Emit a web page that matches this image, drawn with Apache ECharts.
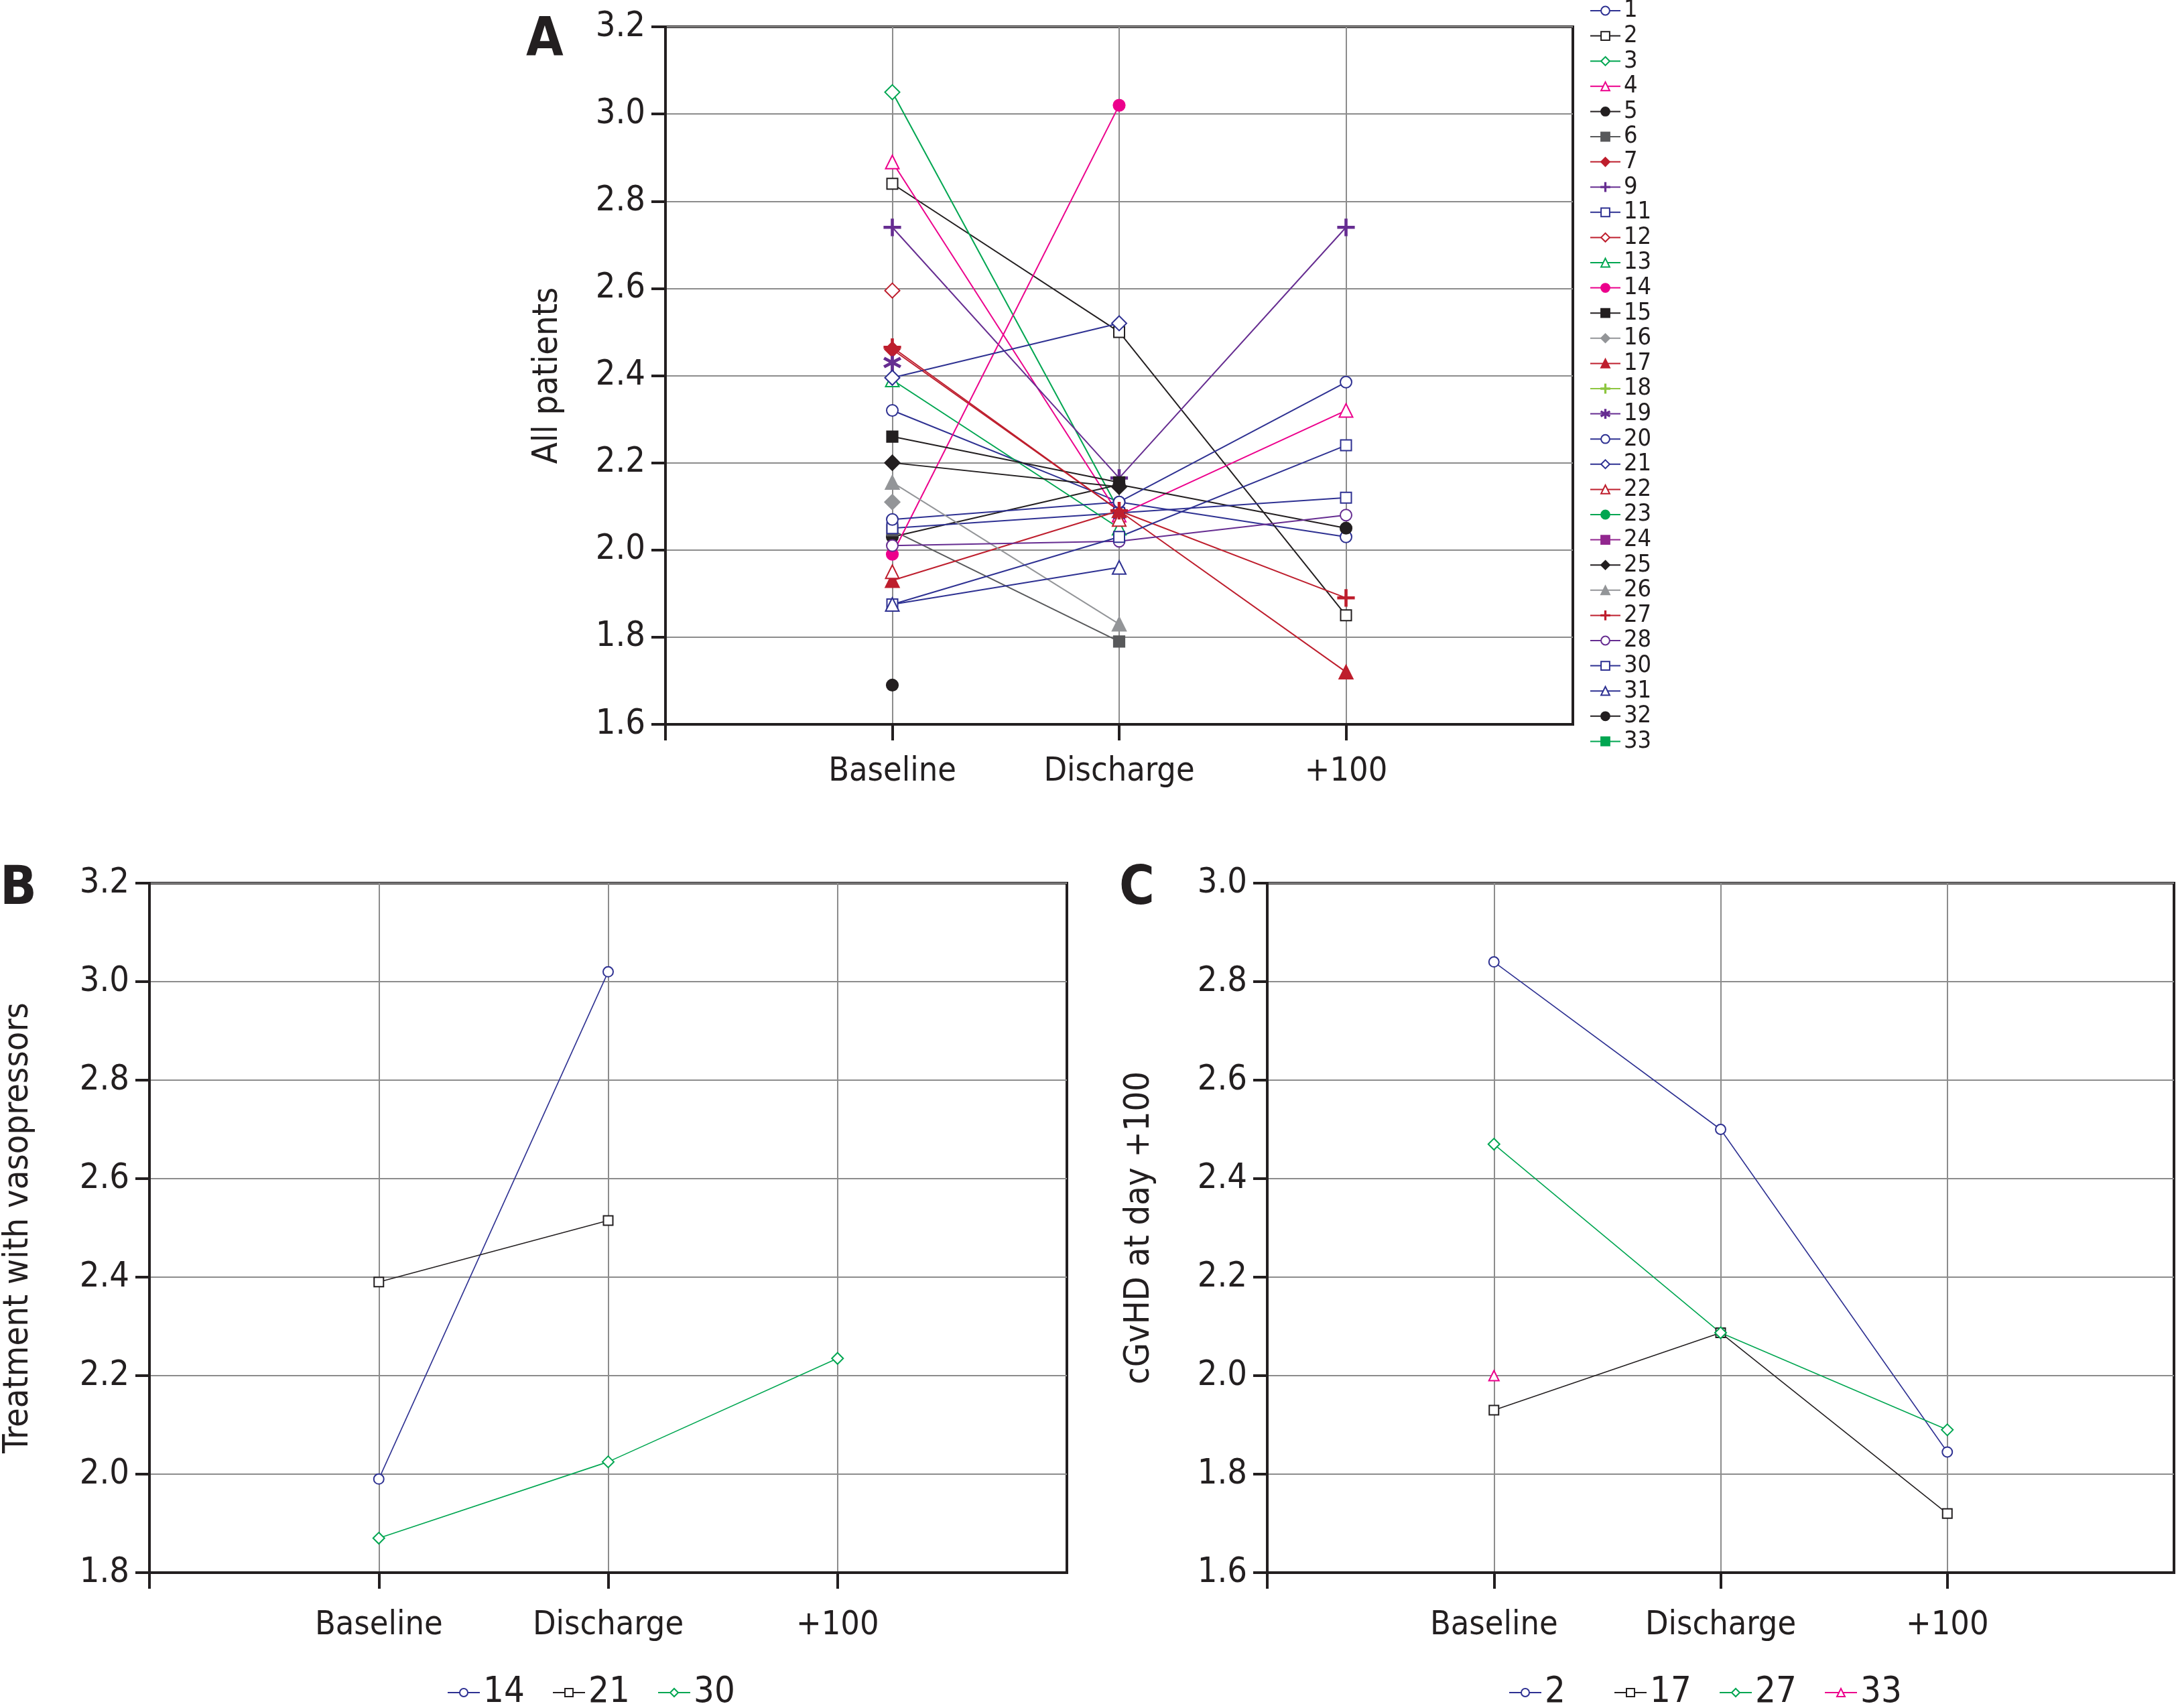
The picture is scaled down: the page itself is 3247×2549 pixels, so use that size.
<!DOCTYPE html>
<html>
<head>
<meta charset="utf-8">
<script src="https://cdn.jsdelivr.net/npm/echarts@6/dist/echarts.min.js"></script>
<style>
html, body { margin: 0; padding: 0; background: #fff; }
#chart { width: 3247px; height: 2549px; }
</style>
</head>
<body>
<div id="chart"></div>
<script>
// time points on the x axis (empty slots pad both ends)
const timepoints = ['Baseline', 'Discharge', '+100'];

// panel A: all patients
const patientsA  = ['1','2','3','4','5','6','7','9','11','12','13','14','15','16','17','18','19','20','21','22','23','24','25','26','27','28','30','31','32','33'];
const baselineA  = [2.32, 2.84, 3.05, 2.89, 2.03, 2.045, 2.46, 2.74, 2.05, 2.595, 2.39, 1.99, 2.26, 2.11, 1.93, null, 2.43, 2.07, 2.395, 1.95, null, null, 2.20, 2.155, 2.465, 2.01, 1.875, 1.875, 1.69, null];
const dischargeA = [2.11, 2.50, 2.09, 2.08, 2.15, 1.79, 2.09, 2.165, 2.085, null, 2.05, 3.02, 2.155, null, 2.09, null, null, 2.11, 2.52, 2.07, null, null, 2.145, 1.83, 2.09, 2.02, 2.03, 1.96, null, null];
const day100A    = [2.03, 1.85, null, 2.32, 2.05, null, null, 2.74, 2.12, null, null, null, null, null, 1.72, null, null, 2.385, null, null, null, null, null, null, 1.89, 2.08, 2.24, null, null, null];
// points drawn without a connecting line in the original
const unlinkedA  = ['22'];

// panel B: treatment with vasopressors
const patientsB  = ['14', '21', '30'];
const baselineB  = [1.99, 2.39, 1.87];
const dischargeB = [3.02, 2.515, 2.025];
const day100B    = [null, null, 2.235];

// panel C: cGvHD at day +100
const patientsC  = ['2', '17', '27', '33'];
const baselineC  = [2.84, 1.93, 2.47, 2.0];
const dischargeC = [2.50, 2.087, 2.087, null];
const day100C    = [1.845, 1.72, 1.89, null];

const BLUE = '#2e3192', BLACK = '#231f20', GREEN = '#00a651', PINK = '#ec008c',
  DGRAY = '#58595b', RED = '#be1e2d', PURPLE = '#662d91', GRAY = '#939598',
  LGREEN = '#8dc63f', PURPLE2 = '#92278f', GRID = '#8c8c8c';

const PLUS = 'path://M-1,-10h2v20h-2z M-10,-1h20v2h-20z';
const STAR = 'path://M-1,-10h2v20h-2z M-8.16,-5.87L9.16,4.13L8.16,5.87L-9.16,-4.13z M-9.16,4.13L8.16,-5.87L9.16,-4.13L-8.16,5.87z';

const colorA = [BLUE, BLACK, GREEN, PINK, BLACK, DGRAY, RED, PURPLE, BLUE, RED, GREEN, PINK, BLACK, GRAY, RED, LGREEN, PURPLE, BLUE, BLUE, RED, GREEN, PURPLE2, BLACK, GRAY, RED, PURPLE, BLUE, BLUE, BLACK, GREEN];
const symbolA = ['emptyCircle','emptyRect','emptyDiamond','emptyTriangle','circle','rect','diamond',PLUS,'emptyRect','emptyDiamond','emptyTriangle','circle','rect','diamond','triangle',PLUS,STAR,'emptyCircle','emptyDiamond','emptyTriangle','circle','rect','diamond','triangle',PLUS,'emptyCircle','emptyRect','emptyTriangle','circle','rect'];
const colorB = [BLUE, BLACK, GREEN];
const symbolB = ['emptyCircle', 'emptyRect', 'emptyDiamond'];
const colorC = [BLUE, BLACK, GREEN, PINK];
const symbolC = ['emptyCircle', 'emptyRect', 'emptyDiamond', 'emptyTriangle'];

const FONT = "'Liberation Sans Narrow', 'DejaVu Sans Condensed', sans-serif";

function symSize(sym, big) {
  const s = sym.replace('empty', '').toLowerCase();
  const table = big
    ? { circle: 17, rect: 16, diamond: 22, triangle: 20 }
    : { circle: 15, rect: 14, diamond: 17, triangle: 15 };
  return table[s] || (big ? 24 : 16);
}

function buildSeries(prefix, names, b, d, h, colors, symbols, axis, big, unlinked) {
  return names.map((n, i) => {
    const vals = ['-', b[i], d[i], h[i], '-'].map(v => v == null ? '-' : v);
    const hide = unlinked && unlinked.indexOf(n) >= 0;
    return {
      name: prefix + n,
      type: 'line',
      xAxisIndex: axis,
      yAxisIndex: axis,
      data: vals,
      symbol: symbols[i],
      symbolSize: symSize(symbols[i], big),
      showAllSymbol: true,
      connectNulls: false,
      lineStyle: { color: colors[i], width: big ? 2 : 1.6, opacity: hide ? 0 : 1 },
      itemStyle: { color: colors[i], borderColor: colors[i], borderWidth: n === '11' ? 3.5 : (big ? 2.2 : 1.8) },
      emphasis: { disabled: true },
      animation: false
    };
  });
}

function xAxisFor(gridIndex, margin) {
  return {
    type: 'category',
    gridIndex: gridIndex,
    data: [''].concat(timepoints, ['']),
    boundaryGap: false,
    axisLine: { lineStyle: { color: BLACK, width: 4 } },
    axisTick: { show: true, length: 24, lineStyle: { color: BLACK, width: 4 }, interval: (i) => i < 4 },
    axisLabel: { margin: margin, fontSize: 50, color: BLACK, fontFamily: FONT, interval: 0 },
    splitLine: { show: true, lineStyle: { color: GRID, width: 2 }, interval: (i) => i > 0 && i < 4 }
  };
}

function yAxisFor(gridIndex, min, max, name, gap) {
  return {
    type: 'value',
    gridIndex: gridIndex,
    min: min, max: max, interval: 0.2,
    name: name,
    nameLocation: 'middle',
    nameGap: gap,
    nameTextStyle: { fontSize: 52, color: BLACK, fontFamily: FONT },
    axisLine: { show: true, lineStyle: { color: BLACK, width: 4 } },
    axisTick: { show: true, length: 21, lineStyle: { color: BLACK, width: 4 } },
    axisLabel: { margin: 30, fontSize: 52, color: BLACK, fontFamily: FONT, formatter: v => v.toFixed(1) },
    splitLine: { show: true, lineStyle: { color: GRID, width: 2 } }
  };
}

const gridStyle = { show: true, borderColor: BLACK, borderWidth: 4, backgroundColor: '#fff' };

const option = {
  animation: false,
  backgroundColor: '#fff',
  grid: [
    Object.assign({ left: 993, top: 40, width: 1354, height: 1041 }, gridStyle),
    Object.assign({ left: 221, top: 1318, width: 1371, height: 1029 }, gridStyle),
    Object.assign({ left: 1891, top: 1318, width: 1354, height: 1029 }, gridStyle)
  ],
  xAxis: [xAxisFor(0, 46), xAxisFor(1, 54), xAxisFor(2, 54)],
  yAxis: [
    yAxisFor(0, 1.6, 3.2, 'All patients', 150),
    yAxisFor(1, 1.8, 3.2, 'Treatment with vasopressors', 170),
    yAxisFor(2, 1.6, 3.0, 'cGvHD at day +100', 165)
  ],
  legend: [
    {
      orient: 'vertical', left: 2372, top: -2, padding: 0, itemGap: 1.6,
      itemWidth: 45, itemHeight: 16, selectedMode: false,
      textStyle: { fontSize: 36, lineHeight: 36, color: BLACK, fontFamily: FONT },
      data: patientsA.map(n => unlinkedA.indexOf(n) >= 0 ? { name: n, lineStyle: { opacity: 1, width: 2 } } : n)
    },
    {
      orient: 'horizontal', left: 667, top: 2496, padding: 0, itemGap: 13,
      itemWidth: 48, itemHeight: 15, selectedMode: false,
      formatter: n => n.slice(1),
      textStyle: { fontSize: 54, lineHeight: 60, width: 90, color: BLACK, fontFamily: FONT },
      data: patientsB.map(n => 'B' + n)
    },
    {
      orient: 'horizontal', left: 2251, top: 2496, padding: 0, itemGap: 13,
      itemWidth: 48, itemHeight: 15, selectedMode: false,
      formatter: n => n.slice(1),
      textStyle: { fontSize: 54, lineHeight: 60, width: 90, color: BLACK, fontFamily: FONT },
      data: patientsC.map(n => 'C' + n)
    }
  ],
  graphic: [
    { type: 'text', left: 785, top: 22, style: { text: 'A', font: 'bold 80px ' + FONT, fill: BLACK } },
    { type: 'text', left: 0, top: 1288, style: { text: 'B', font: 'bold 80px ' + FONT, fill: BLACK } },
    { type: 'text', left: 1670, top: 1288, style: { text: 'C', font: 'bold 80px ' + FONT, fill: BLACK } }
  ],
  series: [].concat(
    buildSeries('', patientsA, baselineA, dischargeA, day100A, colorA, symbolA, 0, true, unlinkedA),
    buildSeries('B', patientsB, baselineB, dischargeB, day100B, colorB, symbolB, 1, false),
    buildSeries('C', patientsC, baselineC, dischargeC, day100C, colorC, symbolC, 2, false)
  )
};

const chart = echarts.init(document.getElementById('chart'));
chart.setOption(option);
</script>
</body>
</html>
